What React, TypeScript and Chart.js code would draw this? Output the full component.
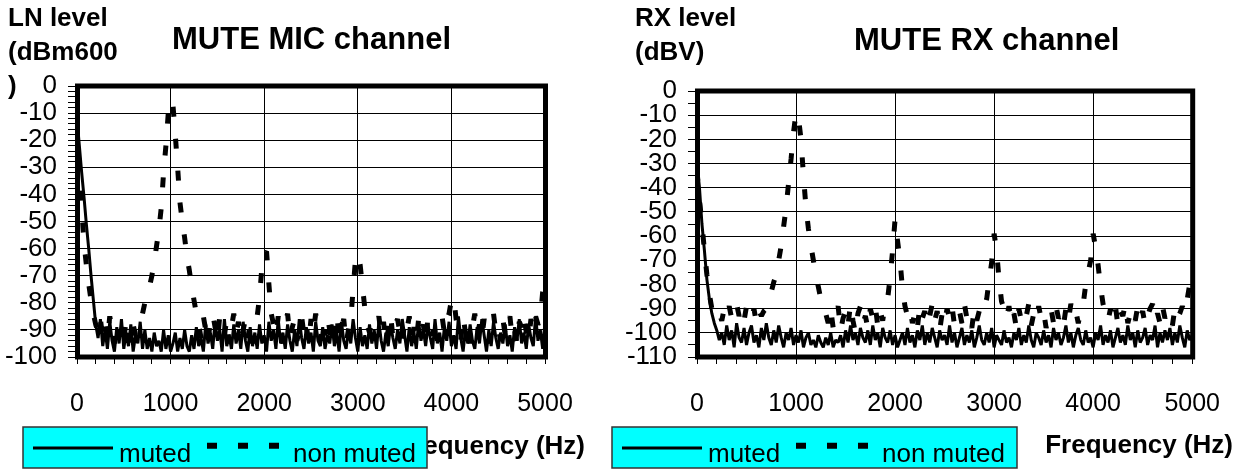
import { useEffect, useRef } from 'react';
import { Chart, registerables } from 'chart.js';

Chart.register(...registerables);

// ---------- DATA ----------
const FREQ_HZ = [
  0, 25, 50, 75, 100, 125, 150, 175, 200, 225, 250, 275, 300, 325, 350, 375, 400, 425, 450, 475,
  500, 525, 550, 575, 600, 625, 650, 675, 700, 725, 750, 775, 800, 825, 850, 875, 900, 925, 950, 975,
  1000, 1025, 1050, 1075, 1100, 1125, 1150, 1175, 1200, 1225, 1250, 1275, 1300, 1325, 1350, 1375, 1400, 1425, 1450, 1475,
  1500, 1525, 1550, 1575, 1600, 1625, 1650, 1675, 1700, 1725, 1750, 1775, 1800, 1825, 1850, 1875, 1900, 1925, 1950, 1975,
  2000, 2025, 2050, 2075, 2100, 2125, 2150, 2175, 2200, 2225, 2250, 2275, 2300, 2325, 2350, 2375, 2400, 2425, 2450, 2475,
  2500, 2525, 2550, 2575, 2600, 2625, 2650, 2675, 2700, 2725, 2750, 2775, 2800, 2825, 2850, 2875, 2900, 2925, 2950, 2975,
  3000, 3025, 3050, 3075, 3100, 3125, 3150, 3175, 3200, 3225, 3250, 3275, 3300, 3325, 3350, 3375, 3400, 3425, 3450, 3475,
  3500, 3525, 3550, 3575, 3600, 3625, 3650, 3675, 3700, 3725, 3750, 3775, 3800, 3825, 3850, 3875, 3900, 3925, 3950, 3975,
  4000, 4025, 4050, 4075, 4100, 4125, 4150, 4175, 4200, 4225, 4250, 4275, 4300, 4325, 4350, 4375, 4400, 4425, 4450, 4475,
  4500, 4525, 4550, 4575, 4600, 4625, 4650, 4675, 4700, 4725, 4750, 4775, 4800, 4825, 4850, 4875, 4900, 4925, 4950, 4975,
  5000,
];

// MUTE MIC channel, LN level (dBm600)
const MIC_MUTED = [
  -12, -22, -32, -41, -51, -60, -70, -79, -88,
  -93, -86, -96, -90, -97, -87, -94, -98, -89, -95, -86, -97, -91, -96, -88, -98, -92, -95, -87, -97,
  -90, -97, -93, -98, -91, -96, -94, -98, -90, -97, -92, -98, -95, -91, -98, -93, -97, -90, -96, -98,
  -92, -97, -89, -96, -93, -98, -88, -95, -91, -97, -87, -94, -90, -98, -86, -96, -92, -97, -88, -95,
  -90, -97, -87, -94, -98, -89, -96, -91, -97, -88, -95, -92, -98, -87, -94, -90, -97, -86, -95, -91,
  -97, -88, -94, -98, -90, -96, -86, -93, -97, -89, -95, -91, -98, -87, -94, -96, -89, -97, -92, -95,
  -88, -96, -91, -98, -87, -94, -97, -90, -95, -86, -93, -98, -89, -96, -92, -97, -88, -95, -90, -97,
  -87, -94, -98, -91, -96, -88, -93, -97, -90, -95, -86, -92, -98, -89, -96, -91, -97, -87, -94, -90,
  -96, -88, -93, -97, -86, -95, -91, -98, -89, -94, -87, -96, -92, -97, -85, -93, -98, -90, -95, -88,
  -94, -97, -89, -95, -86, -92, -98, -90, -96, -87, -93, -97, -91, -95, -88, -96, -92, -98, -89, -94,
  -86, -95, -91, -97, -88, -93, -96, -85, -94, -90, -97, -87,
];
const MIC_NON_MUTED = [
  -15, -30, -45, -58, -66, -73, -79, -84, -88,
  -91, -86, -93, -88, -94, -85, -90, -95, -87, -92, -89, -94, -86, -91, -95, -88, -92,
  -89, -87, -84, -80, -77, -74, -70, -65, -59, -53, -45, -32, -22, -10, -5, -7, -18, -30, -43, -50, -56, -63, -68, -74, -79, -84,
  -88, -93, -85, -90, -95, -86, -84, -89, -94, -85, -88, -92, -86, -95, -89, -84, -91, -87, -94, -90, -86, -93, -88, -95, -89,
  -85, -78, -67, -62, -61, -73, -84, -88,
  -92, -85, -90, -95, -87, -84, -93, -89, -86, -94, -90, -85, -92, -88, -95, -86, -91, -84, -89, -94, -87, -92, -85, -90, -96, -88, -84, -93, -89, -86, -95, -90,
  -86, -75, -64, -62, -66, -74, -82, -88,
  -91, -86, -94, -89, -85, -92, -87, -95, -90, -84, -93, -88, -86, -91, -95, -87, -90, -85, -93, -89, -94, -86, -91, -88, -95, -85, -90, -92, -87, -94,
  -89, -85, -91, -86, -84, -79, -78,
  -86, -90, -94, -85, -91, -87, -95, -89, -84, -92, -88, -93, -86, -90, -95, -87, -84, -91, -89, -94, -86, -92, -88, -85, -93, -90, -95, -87, -89, -84, -91, -94, -86, -90, -85, -88,
  -86, -76, -72,
];

// MUTE RX channel, RX level (dBV)
const RX_MUTED = [
  -30, -40, -55, -66, -78, -86, -92, -96, -99, -103,
  -100, -105, -97, -103, -99, -106, -96, -102, -104, -98, -105, -100, -97, -104, -101, -106, -98, -103, -96, -102,
  -105, -99, -104, -97, -102, -106, -100, -103, -98, -105, -101, -104, -99, -106, -102, -100, -105, -103, -106, -101,
  -104, -106, -102, -105, -100, -106, -103, -104, -101, -106, -99, -104, -97, -103, -100, -105, -98, -102, -104, -99,
  -105, -97, -103, -100, -106, -98, -102, -104, -99, -105, -101, -106, -103, -100, -105, -98, -104, -101, -106, -99,
  -103, -97, -105, -100, -104, -98, -102, -106, -99, -103, -101, -105, -97, -104, -100, -106, -102, -98, -105, -101,
  -104, -99, -106, -102, -97, -103, -105, -100, -104, -98, -106, -101, -103, -105, -99, -104, -102, -106, -100, -103,
  -98, -105, -101, -104, -97, -103, -106, -100, -102, -105, -99, -104, -101, -106, -98, -103, -100, -105, -102, -97,
  -104, -100, -106, -101, -98, -103, -105, -99, -104, -102, -106, -100, -103, -97, -105, -101, -104, -99, -106, -102,
  -98, -104, -101, -105, -97, -103, -100, -106, -99, -104, -102, -98, -105, -101, -103, -97, -106, -100, -104, -99,
  -103, -98, -105, -100, -104, -97, -102, -106, -99, -103, -101,
];
const RX_NON_MUTED = [
  -33, -45, -55, -66, -76, -84, -90, -93, -94,
  -92, -95, -90, -93, -89, -94, -91, -88, -93, -90, -95, -89, -92, -94, -90, -96, -91, -93,
  -91, -90, -87, -83, -79, -76, -70, -64, -56, -48, -38, -28, -17, -9, -11, -20, -35, -48, -57, -64, -70, -76, -81, -86, -89,
  -92, -96, -90, -98, -93, -89, -99, -94, -91, -97, -88, -95, -100, -92, -89, -96, -93, -98, -90, -94, -89, -97, -91, -95, -88,
  -86, -77, -66, -53, -62, -70, -82, -89,
  -93, -90, -96, -92, -98, -89, -94, -91, -97, -93, -88, -95, -91, -99, -92, -96, -90, -94, -89, -97, -93, -91, -96, -88, -94, -92, -98, -90, -95, -91, -93,
  -90, -86, -78, -71, -59, -66, -78, -87,
  -90, -94, -89, -96, -92, -98, -90, -95, -91, -93, -88, -97, -92, -95, -89, -94, -91, -98, -93, -90, -96, -89, -94, -92, -97, -90, -95, -88, -93, -91, -96,
  -91, -88, -80, -75, -70, -59, -65, -72, -81,
  -88, -92, -95, -90, -94, -89, -97, -91, -93, -88, -96, -92, -90, -95, -89, -94, -91, -97, -93, -90, -88, -95, -92, -96, -89, -94, -91, -93, -97, -90, -94, -92, -89,
  -92, -86, -80, -74,
];

const SERIES_NAMES = ['muted', 'non muted'];
const MIC_TITLE = 'MUTE MIC channel';
const RX_TITLE = 'MUTE RX channel';
const MIC_Y_TITLE = ['LN level', '(dBm600', ')'];
const RX_Y_TITLE = ['RX level', '(dBV)'];
const X_TITLE = 'Frequency (Hz)';
const X_MIN = 0;
const X_MAX = 5000;
const X_MAJOR = 1000;
const X_MINOR = 200;
const MIC_Y_MIN = -100;
const MIC_Y_MAX = 0;
const MIC_Y_MINOR = 2;
const RX_Y_MIN = -110;
const RX_Y_MAX = 0;
const RX_Y_MINOR = 5;
const Y_MAJOR = 10;

// ---------- LAYOUT / STYLE ----------
const FONT = '"Liberation Sans", Arial, Helvetica, sans-serif';
const PANELS = [
  {
    canvasLeft: 0, canvasWidth: 600,
    area: { left: 77, right: 545, top: 86, bottom: 357 },
    titleX: 172, titleY: 49,
    yTitleX: 8, yTitleY: 26,
    xTitleRight: 585, xTitleY: 454,
    legend: { x: 23, y: 427, w: 404, h: 41 },
  },
  {
    canvasLeft: 600, canvasWidth: 645,
    area: { left: 697, right: 1194, top: 91, bottom: 357 },
    titleX: 854, titleY: 50,
    yTitleX: 635, yTitleY: 26,
    xTitleRight: 1233, xTitleY: 453,
    legend: { x: 612, y: 427, w: 405, h: 41 },
  },
];

function decorPlugin(p: any, title: string, yTitle: string[]) {
  const ox = p.canvasLeft;
  return {
    id: 'decor',
    afterDatasetsDraw(chart: any) {
      const { ctx, chartArea: a } = chart;
      ctx.save();
      ctx.strokeStyle = '#000';
      ctx.lineWidth = 5;
      ctx.strokeRect(a.left + 0.5, a.top, a.right - a.left, a.bottom - a.top);
      ctx.restore();
    },
    afterDraw(chart: any) {
      const ctx = chart.ctx;
      ctx.save();
      ctx.fillStyle = '#000';
      ctx.textBaseline = 'alphabetic';
      ctx.textAlign = 'left';
      ctx.font = `bold 31px ${FONT}`;
      ctx.fillText(title, p.titleX - ox, p.titleY);
      ctx.font = `bold 26px ${FONT}`;
      yTitle.forEach((line, i) => ctx.fillText(line, p.yTitleX - ox, p.yTitleY + i * 34));
      ctx.textAlign = 'right';
      ctx.fillText(X_TITLE, p.xTitleRight - ox, p.xTitleY);
      // legend
      const L = p.legend;
      const lx = L.x - ox;
      ctx.fillStyle = '#00FFFF';
      ctx.fillRect(lx, L.y, L.w, L.h);
      ctx.strokeStyle = '#333';
      ctx.lineWidth = 1.5;
      ctx.strokeRect(lx, L.y, L.w, L.h);
      ctx.strokeStyle = '#000';
      ctx.lineWidth = 3;
      ctx.beginPath();
      ctx.moveTo(lx + 10, L.y + 21);
      ctx.lineTo(lx + 90, L.y + 21);
      ctx.stroke();
      ctx.lineWidth = 6;
      ctx.setLineDash([10, 21]);
      ctx.beginPath();
      ctx.moveTo(lx + 184, L.y + 18.7);
      ctx.lineTo(lx + 256, L.y + 18.7);
      ctx.stroke();
      ctx.setLineDash([]);
      ctx.fillStyle = '#000';
      ctx.textAlign = 'left';
      ctx.font = `26px ${FONT}`;
      ctx.fillText(SERIES_NAMES[0], lx + 96, L.y + 35);
      ctx.fillText(SERIES_NAMES[1], lx + 270, L.y + 35);
      ctx.restore();
    },
  };
}

function makeChart(canvas: HTMLCanvasElement, p: any, muted: number[], nonMuted: number[], yMin: number, yMax: number, yMinor: number, title: string, yTitle: string[]) {
  const toPts = (vals: number[]) => FREQ_HZ.map((x, i) => ({ x, y: vals[i] }));
  const gridColor = (major: number) => (ctx: any) =>
    ctx.tick && Math.abs(ctx.tick.value % major) < 1e-6 ? '#000' : 'rgba(0,0,0,0)';
  return new Chart(canvas, {
    type: 'line',
    data: {
      datasets: [
        {
          label: SERIES_NAMES[0],
          data: toPts(muted),
          borderColor: '#000',
          borderWidth: 3,
          borderJoinStyle: 'bevel',
          pointRadius: 0,
          tension: 0,
          fill: false,
          order: 2,
        },
        {
          label: SERIES_NAMES[1],
          data: toPts(nonMuted),
          borderColor: '#000',
          borderWidth: 5,
          borderDash: [10, 22],
          borderCapStyle: 'butt',
          borderJoinStyle: 'bevel',
          pointRadius: 0,
          tension: 0,
          fill: false,
          order: 1,
        },
      ],
    },
    options: {
      responsive: false,
      animation: false,
      devicePixelRatio: 1,
      events: [],
      layout: {
        padding: {
          left: 0,
          top: p.area.top,
          right: p.canvasWidth - (p.area.right - p.canvasLeft),
          bottom: 0,
        },
      },
      plugins: { legend: { display: false }, tooltip: { enabled: false }, title: { display: false } },
      scales: {
        x: {
          type: 'linear',
          min: X_MIN,
          max: X_MAX,
          border: { display: false },
          grid: { color: gridColor(X_MAJOR), tickColor: '#000', tickLength: 7, lineWidth: 1 },
          ticks: {
            stepSize: X_MINOR,
            autoSkip: false,
            maxRotation: 0,
            minRotation: 0,
            padding: 25,
            color: '#000',
            font: { family: FONT, size: 25 },
            callback: (v: any) => (Math.abs(v % X_MAJOR) < 1e-6 ? String(v) : ''),
          },
          afterFit: (s: any) => { s.height = 470 - p.area.bottom; },
        },
        y: {
          type: 'linear',
          min: yMin,
          max: yMax,
          border: { display: false },
          grid: { color: gridColor(Y_MAJOR), tickColor: '#000', tickLength: 9, lineWidth: 1 },
          ticks: {
            stepSize: yMinor,
            autoSkip: false,
            padding: 11,
            color: '#000',
            font: { family: FONT, size: 26 },
            callback: (v: any) => (Math.abs(v % Y_MAJOR) < 1e-6 ? String(v) : ''),
          },
          afterFit: (s: any) => { s.width = p.area.left - p.canvasLeft; },
        },
      },
    } as any,
    plugins: [decorPlugin(p, title, yTitle)],
  } as any);
}

export default function App() {
  const micRef = useRef<HTMLCanvasElement>(null);
  const rxRef = useRef<HTMLCanvasElement>(null);
  useEffect(() => {
    const charts = [
      makeChart(micRef.current!, PANELS[0], MIC_MUTED, MIC_NON_MUTED, MIC_Y_MIN, MIC_Y_MAX, MIC_Y_MINOR, MIC_TITLE, MIC_Y_TITLE),
      makeChart(rxRef.current!, PANELS[1], RX_MUTED, RX_NON_MUTED, RX_Y_MIN, RX_Y_MAX, RX_Y_MINOR, RX_TITLE, RX_Y_TITLE),
    ];
    return () => charts.forEach((c) => c.destroy());
  }, []);
  return (
    <div style={{ position: 'fixed', left: 0, top: 0, width: 1245, height: 470, background: '#fff', overflow: 'hidden' }}>
      <canvas ref={micRef} width={PANELS[0].canvasWidth} height={470}
        style={{ position: 'absolute', left: PANELS[0].canvasLeft, top: 0, width: PANELS[0].canvasWidth, height: 470 }} />
      <canvas ref={rxRef} width={PANELS[1].canvasWidth} height={470}
        style={{ position: 'absolute', left: PANELS[1].canvasLeft, top: 0, width: PANELS[1].canvasWidth, height: 470 }} />
    </div>
  );
}
